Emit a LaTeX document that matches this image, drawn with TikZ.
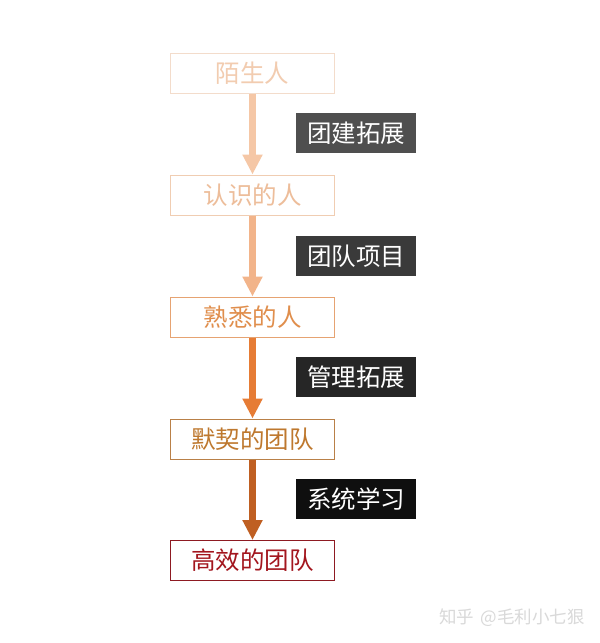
\documentclass[tikz,border=0pt]{standalone}
\usepackage{fontspec}
\setmainfont{Noto Sans CJK SC}
\usetikzlibrary{arrows.meta}
\definecolor{bA}{HTML}{F3DCCB}\definecolor{tA}{HTML}{F2CCB0}
\definecolor{bB}{HTML}{F0CDB2}\definecolor{tB}{HTML}{EDBD9A}
\definecolor{bC}{HTML}{E6A372}\definecolor{tC}{HTML}{E08E4C}
\definecolor{bD}{HTML}{B98048}\definecolor{tD}{HTML}{BE782E}
\definecolor{bE}{HTML}{8E1A22}\definecolor{tE}{HTML}{A3161E}
\definecolor{aA}{HTML}{F5C7A6}\definecolor{aB}{HTML}{F2B48A}
\definecolor{aC}{HTML}{E67C35}\definecolor{aD}{HTML}{BF5F22}
\definecolor{lA}{HTML}{4F4F4F}\definecolor{lB}{HTML}{3A3A3A}
\definecolor{lC}{HTML}{262626}\definecolor{lD}{HTML}{0F0F0F}
\tikzset{
  stage/.style={draw=#1, line width=1pt, minimum width=164pt, minimum height=40pt, inner sep=0pt, font=\fontsize{24.5}{26}\selectfont},
  tag/.style={fill=#1, text=white, minimum width=120pt, minimum height=40pt, inner sep=0pt, font=\fontsize{24.5}{26}\selectfont},
  flow/.style={draw=#1, line width=7pt, -{Triangle[width=19pt,length=20pt]}},
}
\begin{document}
\begin{tikzpicture}[x=1pt,y=-1pt]
\useasboundingbox[fill=white] (0,0) rectangle (600,643);
\node[stage=bA, text=tA] (s1) at (252.5,73) {陌生人};
\node[stage=bB, text=tB] (s2) at (252.5,195) {认识的人};
\node[stage=bC, text=tC] (s3) at (252.5,317) {熟悉的人};
\node[stage=bD, text=tD] (s4) at (252.5,439) {默契的团队};
\node[stage=bE, text=tE] (s5) at (252.5,560.5) {高效的团队};
\draw[flow=aA] (s1.south) -- (s2.north);
\draw[flow=aB] (s2.south) -- (s3.north);
\draw[flow=aC] (s3.south) -- (s4.north);
\draw[flow=aD] (s4.south) -- (s5.north);
\node[tag=lA] (t1) at (356,133) {团建拓展};
\node[tag=lB] (t2) at (356,256) {团队项目};
\node[tag=lC] (t3) at (356,377) {管理拓展};
\node[tag=lD] (t4) at (356,499) {系统学习};
\node[text=black!15, font=\fontsize{17.5}{19}\selectfont, anchor=center] (wm) at (512,618) {知乎\hspace{6pt}@毛利小七狠};
\end{tikzpicture}
\end{document}
